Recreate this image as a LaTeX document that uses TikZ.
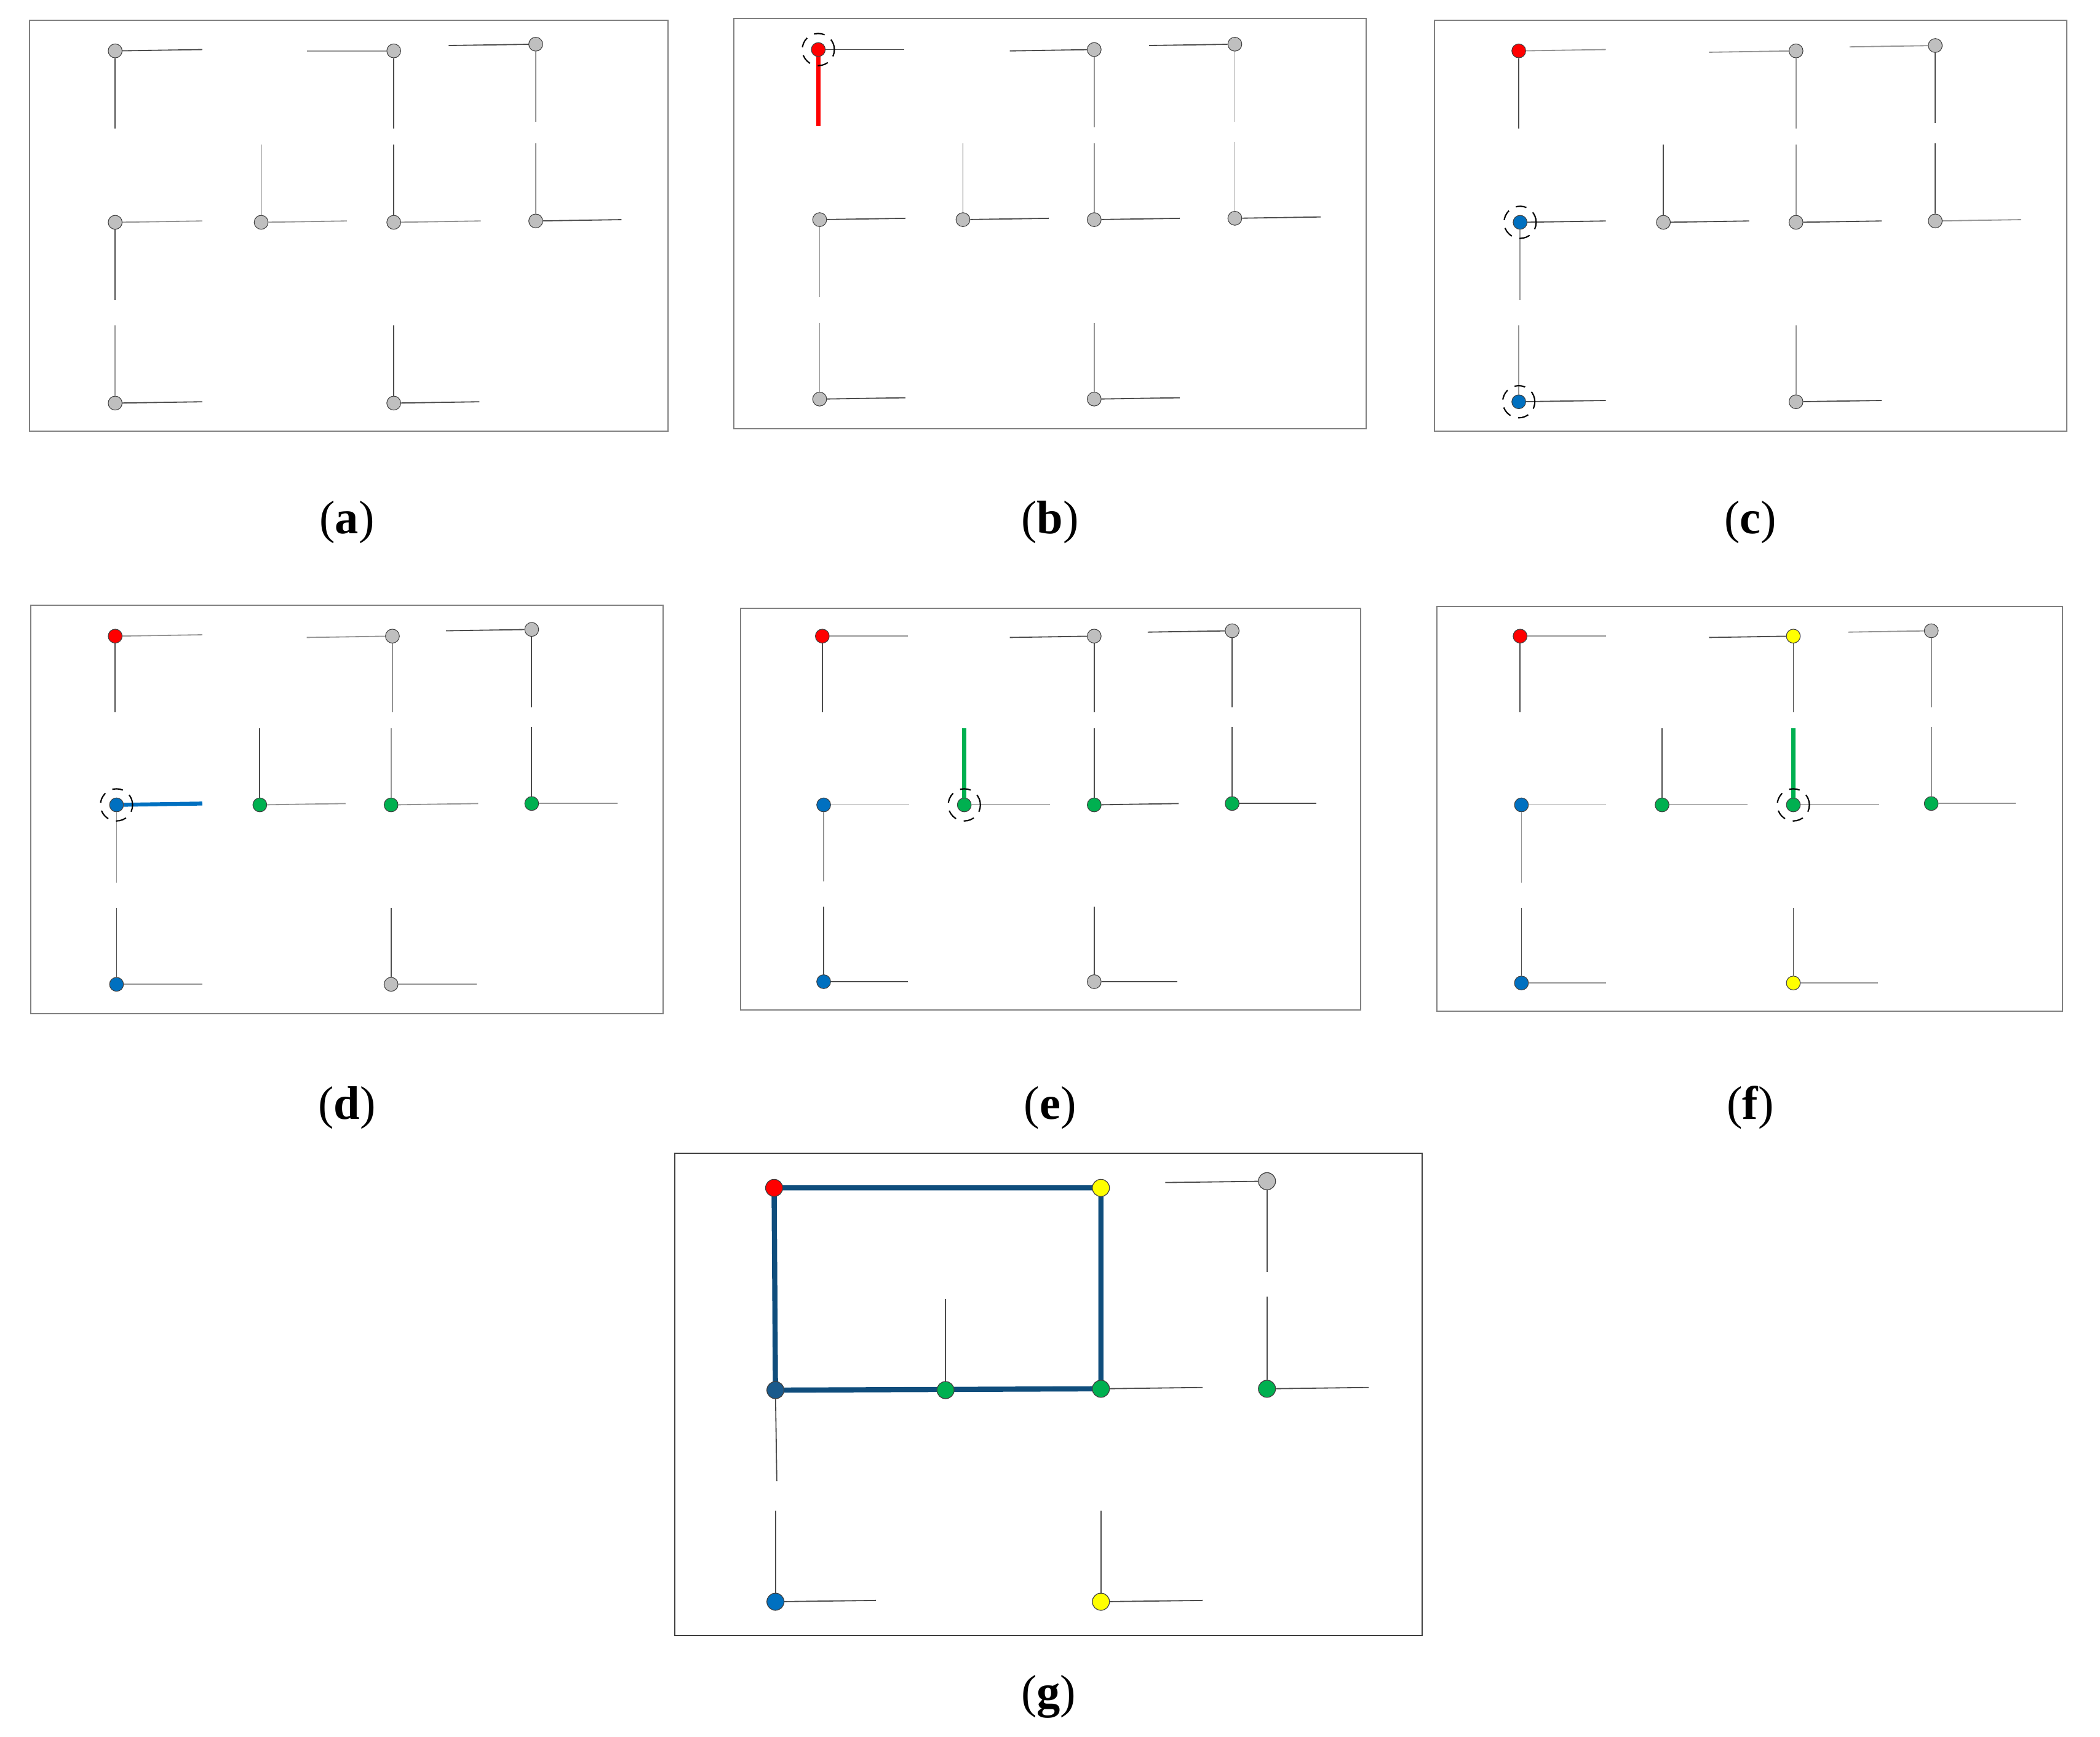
\documentclass[tikz,border=0pt]{standalone}
\usepackage{fontspec}
\setmainfont{Liberation Serif}
\definecolor{cgy}{HTML}{BFBFBF}
\definecolor{crd}{HTML}{FF0000}
\definecolor{cbl}{HTML}{0070C0}
\definecolor{cgn}{HTML}{00B050}
\definecolor{cyl}{HTML}{FFFF00}
\definecolor{croute}{HTML}{0F4D7C}
\definecolor{cbld}{HTML}{1A5A8C}
\newcommand{\arm}[4][ln]{\coordinate (#2#3) at (#4); \draw[#1] (#2) -- (#2#3);}
\tikzset{
  frame/.style={draw=black!50, line width=1.3pt},
  gframe/.style={draw=black!75, line width=1.3pt},
  ln/.style={draw=black!70, line width=1.2pt},
  lnl/.style={draw=black!42, line width=1.2pt},
  pt/.style={circle, draw=black!75, line width=0.7pt, minimum size=5.2mm, inner sep=0pt},
  bpt/.style={circle, draw=black!75, line width=0.8pt, minimum size=6.4mm, inner sep=0pt},
  sel/.style={circle, draw=black, dashed, dash pattern=on 4mm off 3mm, line width=1.4pt, minimum size=12mm, inner sep=0pt},
  thk/.style={line width=4.2pt},
  route/.style={draw=croute, line width=5.5pt, line join=round},
  lab/.style={font=\fontsize{50}{56}\selectfont}
}
\begin{document}
\begin{tikzpicture}[x=0.5mm, y=-0.5mm]
\useasboundingbox (0,0) rectangle (1568,1297);
% ---------------- (a)
\draw[frame] (22,15) rectangle (499,322);
\node[pt,fill=cgy] (a1) at (86,38) {};
\node[pt,fill=cgy] (a2) at (294,38) {};
\node[pt,fill=cgy] (a3) at (400,33) {};
\node[pt,fill=cgy] (a4) at (86,166) {};
\node[pt,fill=cgy] (a5) at (195,166) {};
\node[pt,fill=cgy] (a6) at (294,166) {};
\node[pt,fill=cgy] (a7) at (400,165) {};
\node[pt,fill=cgy] (a8) at (86,301) {};
\node[pt,fill=cgy] (a9) at (294,301) {};
\arm{a1}{r}{151,37} \arm{a1}{d}{86,96}
\arm[lnl]{a2}{l}{229,38} \arm{a2}{d}{294,96}
\arm{a3}{l}{335,34} \arm[lnl]{a3}{d}{400,91}
\arm[lnl]{a4}{r}{151,165} \arm{a4}{d}{86,224}
\arm[lnl]{a5}{r}{259,165} \arm{a5}{u}{195,108}
\arm[lnl]{a6}{r}{359,165} \arm{a6}{u}{294,108}
\arm{a7}{r}{464,164} \arm[lnl]{a7}{u}{400,107}
\arm{a8}{r}{151,300} \arm[lnl]{a8}{u}{86,243}
\arm{a9}{r}{358,300} \arm{a9}{u}{294,243}
\node[lab] (la) at (259,390) {(\textbf{a})};
% ---------------- (b)
\draw[frame] (548,14) rectangle (1020,320);
\node[pt,fill=crd] (b1) at (611,37) {};
\node[pt,fill=cgy] (b2) at (817,37) {};
\node[pt,fill=cgy] (b3) at (922,33) {};
\node[pt,fill=cgy] (b4) at (612,164) {};
\node[pt,fill=cgy] (b5) at (719,164) {};
\node[pt,fill=cgy] (b6) at (817,164) {};
\node[pt,fill=cgy] (b7) at (922,163) {};
\node[pt,fill=cgy] (b8) at (612,298) {};
\node[pt,fill=cgy] (b9) at (817,298) {};
\arm{b1}{r}{675,37} \arm[thk,draw=crd]{b1}{d}{611,94}
\arm{b2}{l}{754,38} \arm[lnl]{b2}{d}{817,95}
\arm{b3}{l}{858,34} \arm[lnl]{b3}{d}{922,91}
\arm{b4}{r}{676,163} \arm[lnl]{b4}{d}{612,222}
\arm{b5}{r}{783,163} \arm{b5}{u}{719,107}
\arm{b6}{r}{881,163} \arm[lnl]{b6}{u}{817,107}
\arm{b7}{r}{986,162} \arm[lnl]{b7}{u}{922,106}
\arm{b8}{r}{676,297} \arm[lnl]{b8}{u}{612,241}
\arm{b9}{r}{881,297} \arm[lnl]{b9}{u}{817,241}
\node[sel] (bs) at (b1) {};
\node[lab] (lb) at (784,390) {(\textbf{b})};
% ---------------- (c)
\draw[frame] (1071,15) rectangle (1543,322);
\node[pt,fill=crd] (c1) at (1134,38) {};
\node[pt,fill=cgy] (c2) at (1341,38) {};
\node[pt,fill=cgy] (c3) at (1445,34) {};
\node[pt,fill=cbl] (c4) at (1135,166) {};
\node[pt,fill=cgy] (c5) at (1242,166) {};
\node[pt,fill=cgy] (c6) at (1341,166) {};
\node[pt,fill=cgy] (c7) at (1445,165) {};
\node[pt,fill=cbl] (c8) at (1134,300) {};
\node[pt,fill=cgy] (c9) at (1341,300) {};
\arm[lnl]{c1}{r}{1199,37} \arm{c1}{d}{1134,96}
\arm[lnl]{c2}{l}{1276,39} \arm[lnl]{c2}{d}{1341,96}
\arm[lnl]{c3}{l}{1381,35} \arm{c3}{d}{1445,92}
\arm{c4}{r}{1199,165} \arm[lnl]{c4}{d}{1135,224}
\arm{c5}{r}{1306,165} \arm{c5}{u}{1242,108}
\arm{c6}{r}{1405,165} \arm[lnl]{c6}{u}{1341,108}
\arm[lnl]{c7}{r}{1509,164} \arm{c7}{u}{1445,107}
\arm{c8}{r}{1199,299} \arm[lnl]{c8}{u}{1134,243}
\arm{c9}{r}{1405,299} \arm[lnl]{c9}{u}{1341,243}
\node[sel] (cs1) at (c4) {};
\node[sel] (cs2) at (c8) {};
\node[lab] (lc) at (1307,390) {(\textbf{c})};
% ---------------- (d)
\draw[frame] (23,452) rectangle (495,757);
\node[pt,fill=crd] (d1) at (86,475) {};
\node[pt,fill=cgy] (d2) at (293,475) {};
\node[pt,fill=cgy] (d3) at (397,470) {};
\node[pt,fill=cbl] (d4) at (87,601) {};
\node[pt,fill=cgn] (d5) at (194,601) {};
\node[pt,fill=cgn] (d6) at (292,601) {};
\node[pt,fill=cgn] (d7) at (397,600) {};
\node[pt,fill=cbl] (d8) at (87,735) {};
\node[pt,fill=cgy] (d9) at (292,735) {};
\arm[lnl]{d1}{r}{151,474} \arm{d1}{d}{86,532}
\arm[lnl]{d2}{l}{229,476} \arm[lnl]{d2}{d}{293,532}
\arm{d3}{l}{333,471} \arm{d3}{d}{397,528}
\arm[thk,draw=cbl]{d4}{r}{151,600} \arm[lnl]{d4}{d}{87,659}
\arm[lnl]{d5}{r}{258,600} \arm{d5}{u}{194,544}
\arm[lnl]{d6}{r}{357,600} \arm[lnl]{d6}{u}{292,544}
\arm[lnl]{d7}{r}{461,600} \arm{d7}{u}{397,543}
\arm[lnl]{d8}{r}{151,735} \arm{d8}{u}{87,678}
\arm[lnl]{d9}{r}{356,735} \arm{d9}{u}{292,678}
\node[sel] (ds) at (d4) {};
\node[lab] (ld) at (259,827) {(\textbf{d})};
% ---------------- (e)
\draw[frame] (553,454) rectangle (1016,754);
\node[pt,fill=crd] (e1) at (614,475) {};
\node[pt,fill=cgy] (e2) at (817,475) {};
\node[pt,fill=cgy] (e3) at (920,471) {};
\node[pt,fill=cbl] (e4) at (615,601) {};
\node[pt,fill=cgn] (e5) at (720,601) {};
\node[pt,fill=cgn] (e6) at (817,601) {};
\node[pt,fill=cgn] (e7) at (920,600) {};
\node[pt,fill=cbl] (e8) at (615,733) {};
\node[pt,fill=cgy] (e9) at (817,733) {};
\arm[lnl]{e1}{r}{678,475} \arm{e1}{d}{614,532}
\arm{e2}{l}{754,476} \arm{e2}{d}{817,532}
\arm{e3}{l}{857,472} \arm{e3}{d}{920,528}
\arm[lnl]{e4}{r}{679,601} \arm[lnl]{e4}{d}{615,658}
\arm{e5}{r}{784,601} \arm[thk,draw=cgn]{e5}{u}{720,544}
\arm{e6}{r}{880,600} \arm{e6}{u}{817,544}
\arm{e7}{r}{983,600} \arm{e7}{u}{920,543}
\arm{e8}{r}{678,733} \arm{e8}{u}{615,677}
\arm{e9}{r}{879,733} \arm{e9}{u}{817,677}
\node[sel] (es) at (e5) {};
\node[lab] (le) at (784,827) {(\textbf{e})};
% ---------------- (f)
\draw[frame] (1073,453) rectangle (1540,755);
\node[pt,fill=crd] (f1) at (1135,475) {};
\node[pt,fill=cyl] (f2) at (1339,475) {};
\node[pt,fill=cgy] (f3) at (1442,471) {};
\node[pt,fill=cbl] (f4) at (1136,601) {};
\node[pt,fill=cgn] (f5) at (1241,601) {};
\node[pt,fill=cgn] (f6) at (1339,601) {};
\node[pt,fill=cgn] (f7) at (1442,600) {};
\node[pt,fill=cbl] (f8) at (1136,734) {};
\node[pt,fill=cyl] (f9) at (1339,734) {};
\arm[lnl]{f1}{r}{1199,475} \arm{f1}{d}{1135,532}
\arm{f2}{l}{1276,476} \arm{f2}{d}{1339,532}
\arm[lnl]{f3}{l}{1380,472} \arm[lnl]{f3}{d}{1442,528}
\arm[lnl]{f4}{r}{1199,601} \arm[lnl]{f4}{d}{1136,659}
\arm{f5}{r}{1305,601} \arm{f5}{u}{1241,544}
\arm{f6}{r}{1403,601} \arm[thk,draw=cgn]{f6}{u}{1339,544}
\arm[lnl]{f7}{r}{1505,600} \arm[lnl]{f7}{u}{1442,543}
\arm[lnl]{f8}{r}{1199,734} \arm{f8}{u}{1136,678}
\arm[lnl]{f9}{r}{1402,734} \arm{f9}{u}{1339,678}
\node[sel] (fs) at (f6) {};
\node[lab] (lf) at (1307,827) {(\textbf{f})};
% ---------------- (g)
\draw[gframe] (504,861) rectangle (1062,1221);
\coordinate (G1) at (578,887);
\coordinate (G2) at (822,887);
\coordinate (G3) at (946,882);
\coordinate (G4) at (579,1038);
\coordinate (G5) at (706,1038);
\coordinate (G6) at (822,1037);
\coordinate (G7) at (946,1037);
\coordinate (G8) at (579,1196);
\coordinate (G9) at (822,1196);
\draw[ln] (G1) -- (654,886);
\draw[ln] (G1) -- (577,955);
\draw[route] (G1) -- (G2) -- (G6) -- (G4) -- cycle;
\node[bpt,fill=crd] (g1) at (G1) {};
\node[bpt,fill=cyl] (g2) at (G2) {};
\node[bpt,fill=cgy] (g3) at (G3) {};
\node[bpt,fill=cbld] (g4) at (G4) {};
\node[bpt,fill=cgn] (g5) at (G5) {};
\node[bpt,fill=cgn] (g6) at (G6) {};
\node[bpt,fill=cgn] (g7) at (G7) {};
\node[bpt,fill=cbl] (g8) at (G8) {};
\node[bpt,fill=cyl] (g9) at (G9) {};
\arm{g3}{l}{870,883} \arm{g3}{d}{946,950}
\arm{g5}{u}{706,970}
\arm{g6}{r}{898,1036}
\arm{g7}{r}{1022,1036} \arm{g7}{u}{946,968}
\arm{g4}{d}{580,1106}
\arm{g8}{r}{654,1195} \arm{g8}{u}{579,1128}
\arm{g9}{r}{898,1195} \arm{g9}{u}{822,1128}
\node[lab] (lg) at (783,1267) {(\textbf{g})};
\end{tikzpicture}
\end{document}
